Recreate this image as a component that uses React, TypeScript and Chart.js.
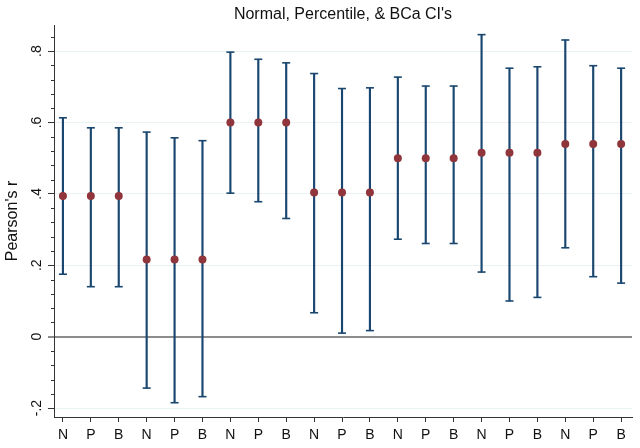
import React, { useEffect, useRef } from 'react';
import { Chart, registerables } from 'chart.js';

Chart.register(...registerables);

const categories = ['N', 'P', 'B', 'N', 'P', 'B', 'N', 'P', 'B', 'N', 'P', 'B', 'N', 'P', 'B', 'N', 'P', 'B', 'N', 'P', 'B'];
const estimates = [0.394, 0.394, 0.394, 0.216, 0.216, 0.216, 0.6, 0.6, 0.6, 0.404, 0.404, 0.404, 0.5, 0.5, 0.5, 0.515, 0.515, 0.515, 0.54, 0.54, 0.54];
const lowerCI = [0.175, 0.14, 0.14, -0.144, -0.185, -0.168, 0.402, 0.378, 0.331, 0.067, 0.01, 0.017, 0.273, 0.261, 0.261, 0.181, 0.1, 0.11, 0.249, 0.168, 0.15];
const upperCI = [0.613, 0.585, 0.585, 0.573, 0.557, 0.549, 0.797, 0.777, 0.767, 0.737, 0.695, 0.697, 0.727, 0.702, 0.702, 0.846, 0.752, 0.756, 0.831, 0.759, 0.752];
const yTickValues = [-0.2, 0, 0.2, 0.4, 0.6, 0.8];
const yTickLabels = ['-.2', '0', '.2', '.4', '.6', '.8'];
const yMinorTicks = [-0.16, -0.12, -0.08, -0.04, 0.04, 0.08, 0.12, 0.16, 0.24, 0.28, 0.32, 0.36, 0.44, 0.48, 0.52, 0.56, 0.64, 0.68, 0.72, 0.76, 0.84];
const chartTitle = "Normal, Percentile, & BCa CI's";
const yTitle = "Pearson's r";

const NAVY = '#1a476f';
const MAROON = '#90353b';
const AXIS = '#333333';
const GRID = '#eaf2f3';
const ZERO = '#8c8c8c';

const minorTickPlugin = {
  id: 'minorTicks',
  afterDraw(chart: any) {
    const y = chart.scales.y;
    const ctx = chart.ctx;
    ctx.save();
    ctx.strokeStyle = AXIS;
    ctx.lineWidth = 1;
    ctx.beginPath();
    yMinorTicks.forEach((v) => {
      const p = Math.round(y.getPixelForValue(v)) + 0.5;
      ctx.moveTo(y.right - 3, p);
      ctx.lineTo(y.right, p);
    });
    ctx.stroke();
    ctx.restore();
  },
};

export default function App() {
  const canvasRef = useRef<HTMLCanvasElement | null>(null);

  useEffect(() => {
    if (!canvasRef.current) return;
    Chart.defaults.font.family = '"Liberation Sans", Arial, Helvetica, sans-serif';
    const isZero = (ctx: any) => ctx.tick && Math.abs(ctx.tick.value) < 1e-9;
    const chart = new Chart(canvasRef.current, {
      type: 'scatter',
      data: {
        datasets: [
          {
            type: 'bar',
            data: categories.map((_, i) => ({ x: i, y: [lowerCI[i], upperCI[i]] })) as any,
            backgroundColor: NAVY,
            borderWidth: 0,
            barThickness: 1.5,
            order: 3,
          } as any,
          {
            type: 'scatter',
            data: [
              ...categories.map((_, i) => ({ x: i, y: lowerCI[i] })),
              ...categories.map((_, i) => ({ x: i, y: upperCI[i] })),
            ],
            pointStyle: 'line',
            pointRadius: 4,
            borderColor: NAVY,
            pointBorderColor: NAVY,
            pointBorderWidth: 1.6,
            order: 2,
          } as any,
          {
            type: 'scatter',
            data: categories.map((_, i) => ({ x: i, y: estimates[i] })),
            pointRadius: 4,
            backgroundColor: MAROON,
            pointBackgroundColor: MAROON,
            pointBorderWidth: 0,
            order: 1,
          } as any,
        ],
      },
      options: {
        animation: false,
        responsive: true,
        maintainAspectRatio: false,
        devicePixelRatio: 1,
        layout: { padding: { left: 0, right: 8, top: 0, bottom: 0 } },
        plugins: {
          legend: { display: false },
          tooltip: { enabled: false },
          title: { display: false },
        },
        scales: {
          x: {
            type: 'linear',
            min: -0.32,
            max: 20.39,
            offset: false,
            afterFit: (s: any) => { s.height = 31; },
            afterBuildTicks: (s: any) => { s.ticks = categories.map((_, i) => ({ value: i })); },
            ticks: {
              autoSkip: false,
              minRotation: 0,
              maxRotation: 0,
              padding: 5,
              color: '#111',
              font: { size: 14 },
              callback: (v: any) => categories[Math.round(v)] ?? '',
            },
            grid: { drawOnChartArea: false, drawTicks: true, tickLength: 5, tickColor: AXIS, offset: false },
            border: { color: AXIS, width: 1 },
          },
          xTop: {
            type: 'linear',
            position: 'top',
            afterFit: (s: any) => { s.height = 25; },
            grid: { display: false },
            border: { display: false },
            ticks: { display: false },
            title: {
              display: true,
              text: chartTitle,
              color: '#111',
              font: { size: 16 },
              padding: { top: 5, bottom: 0 },
            },
          },
          y: {
            type: 'linear',
            min: -0.225,
            max: 0.873,
            afterFit: (s: any) => { s.width = 54; },
            afterBuildTicks: (s: any) => { s.ticks = yTickValues.map((v) => ({ value: v })); },
            ticks: {
              autoSkip: false,
              minRotation: 90,
              maxRotation: 90,
              crossAlign: 'center',
              padding: 3,
              color: '#111',
              font: { size: 14 },
              callback: (v: any) => {
                const i = yTickValues.findIndex((t) => Math.abs(t - v) < 1e-9);
                return i >= 0 ? yTickLabels[i] : '';
              },
            },
            grid: {
              color: (ctx: any) => (isZero(ctx) ? ZERO : GRID),
              lineWidth: (ctx: any) => (isZero(ctx) ? 2 : 1),
              tickColor: (ctx: any) => (isZero(ctx) ? ZERO : AXIS),
              tickWidth: (ctx: any) => (isZero(ctx) ? 2 : 1),
              tickLength: 6,
            },
            border: { color: AXIS, width: 1 },
            title: {
              display: true,
              text: yTitle,
              color: '#111',
              font: { size: 16 },
              padding: { top: 3, bottom: 0 },
            },
          },
        } as any,
      },
      plugins: [minorTickPlugin],
    } as any);
    return () => chart.destroy();
  }, []);

  return (
    <div style={{ position: 'fixed', left: 0, top: 0, width: 640, height: 448, background: '#fff' }}>
      <canvas ref={canvasRef} />
    </div>
  );
}
